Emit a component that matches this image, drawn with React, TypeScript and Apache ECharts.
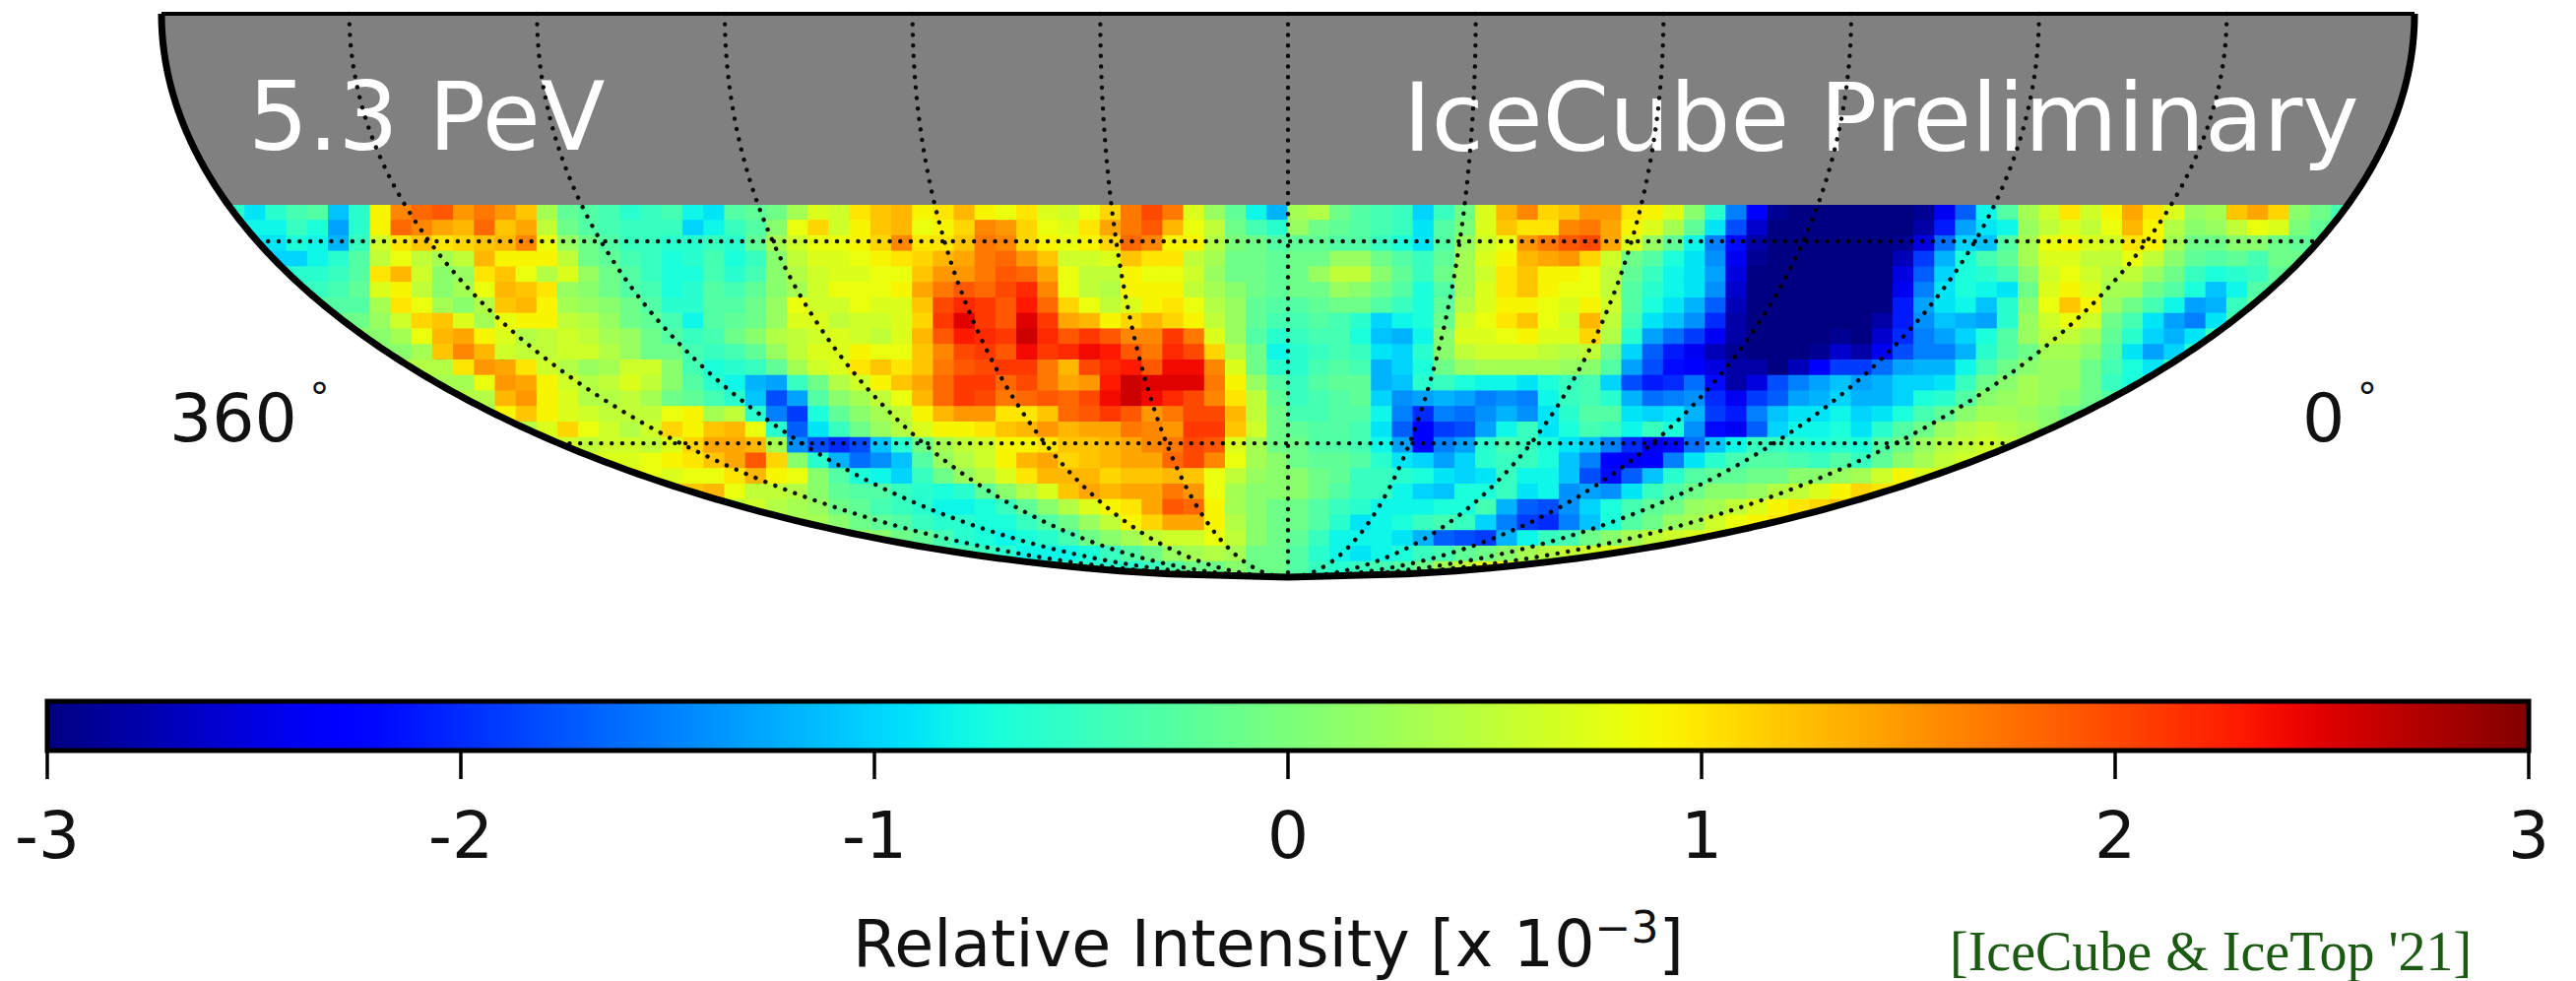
import React, { useEffect, useRef } from "react";
import * as echarts from "echarts";

// Sky map: rows run down from the exposure limit, columns run left to right
// in the projected plane. Values are relative intensity in tenths of 10^-3.
const columnCount = 108;
const rowCount = 24;
const exposureEdge = 0.339; // projected depth of the grey/map border
const rowStarts = [2,4,5,6,6,7,8,9,10,11,13,14,15,15,17,19,21,23,25,26,29,32,37,45];
const row00 = [-5,-6,-9,-6,-4,-3,-11,-6,9,16,18,19,15,17,15,12,3,-2,-3,-4,-6,-5,-4,-8,-9,
  -3,-2,-1,3,7,6,10,12,13,9,10,13,9,8,10,7,6,8,11,17,20,17,7,2,-2,-8,-12,
  3,4,-1,-3,-4,-5,-10,-5,-1,7,13,16,11,12,15,15,10,9,7,1,-6,-15,-23,-29,-30,-30,-30,
  -30,-30,-30,-29,-24,-17,-8,-3,3,6,10,6,9,14,10,7,2,3,12,14,11,1,-1,-4];
const row01 = [-8,-8,-5,-7,-13,-6,9,18,16,14,13,18,12,14,5,-1,-3,-4,-5,-5,-5,-10,-8,
  -5,-3,1,8,11,6,9,12,13,8,9,11,16,15,11,8,7,10,14,17,19,13,8,5,-1,-4,-6,
  2,-1,-2,-3,-4,-5,-9,-3,0,7,12,10,10,16,17,14,9,7,3,-2,-9,-18,-26,-30,-30,-30,-30,
  -30,-30,-30,-28,-21,-13,-9,-8,2,5,7,5,8,13,9,4,1,2,5,8,7,0,-2];
const row02 = [-9,-7,-8,-12,-5,6,10,12,10,11,12,13,16,8,2,-1,-3,-5,-5,-6,-6,-5,
  -6,-2,3,6,8,8,9,11,16,10,10,12,17,16,11,9,8,9,11,18,16,9,9,4,0,-1,-3,
  -2,-2,-3,-3,-5,-7,-9,-3,2,6,8,15,17,19,20,14,7,2,-2,-8,-15,-22,-28,-30,-30,-30,-30,
  -30,-30,-29,-25,-16,-10,-11,-3,3,8,9,7,6,10,9,3,-1,-1,1,1,-1,-2];
const row03 = [-10,-8,-6,-3,5,8,5,3,5,13,9,9,9,5,-1,-2,-4,-5,-7,-6,-4,
  -7,-5,1,5,7,7,8,9,10,11,13,14,17,18,15,12,6,6,7,12,10,10,5,3,-1,-1,-2,
  -1,-1,2,2,-1,-3,-5,-2,3,7,9,13,14,15,11,6,-1,-3,-7,-9,-14,-24,-29,-30,-30,-30,-30,
  -30,-30,-27,-19,-12,-7,-4,-2,3,7,7,5,5,8,5,1,-2,-3,-2,-4,-1,-1];
const row04 = [-6,-6,-5,-3,10,13,6,1,2,10,12,8,4,7,2,-1,-3,-5,-7,-7,-4,
  -6,-4,1,4,6,7,7,8,8,12,15,15,17,19,18,14,8,5,5,9,8,8,6,2,-1,-1,-2,
  -1,2,5,5,1,-2,-5,-1,3,6,10,12,9,9,8,5,-2,-5,-8,-9,-13,-25,-30,-30,-30,-30,-30,
  -30,-30,-25,-17,-10,-7,-6,-4,1,6,8,6,4,5,2,-1,-5,-7,-6,-5,-2];
const row05 = [-5,-4,-2,7,9,5,1,3,8,13,12,10,2,1,-1,-3,-4,-7,-6,-3,
  -4,-2,1,3,6,8,8,8,9,14,17,19,18,20,22,16,8,5,4,9,9,9,5,3,1,-1,-2,
  -1,-1,2,1,-1,-3,-7,-3,3,7,10,12,9,8,8,5,-3,-6,-8,-9,-14,-26,-30,-30,-30,-30,-30,
  -30,-30,-24,-15,-9,-7,-8,-9,-1,7,9,7,3,3,-1,-3,-7,-11,-8,-3];
const row06 = [-3,-3,3,10,8,3,1,4,12,13,9,3,2,1,-1,-3,-6,-6,-3,
  -3,-1,2,8,6,6,8,7,7,12,20,22,21,19,23,18,11,8,5,7,9,10,8,4,2,-2,-3,
  -3,-2,-1,-1,-3,-5,-7,-2,4,7,9,9,8,7,9,6,-3,-7,-9,-12,-17,-27,-30,-30,-30,-30,-30,
  -30,-30,-21,-13,-9,-8,-11,-6,1,8,12,9,2,-1,-4,-8,-13,-12,-5,-2];
const row07 = [-1,2,6,11,12,7,3,8,9,9,5,4,2,-1,-2,-4,-8,-3,
  -2,-1,2,7,7,5,6,6,7,11,21,25,21,19,25,21,14,13,9,11,13,11,9,5,2,-2,-4,
  -4,-3,-4,-6,-10,-8,-7,-1,6,8,10,12,8,6,13,5,-4,-9,-11,-14,-20,-28,-30,-30,-30,-30,-30,
  -30,-28,-21,-14,-11,-12,-13,-6,2,6,8,6,-1,-4,-9,-13,-15,-9,-4];
const row08 = [1,3,8,13,14,9,7,4,5,6,5,3,2,-1,-3,-5,-4,
  -1,1,4,5,6,7,6,5,7,13,19,23,22,21,26,22,19,21,19,16,16,21,17,7,2,-3,-6,
  -5,-4,-4,-7,-11,-12,-8,1,7,7,8,9,7,7,11,4,-6,-13,-16,-19,-24,-28,-30,-30,-30,-30,-29,
  -30,-26,-20,-15,-13,-10,-7,-3,2,5,5,3,-2,-6,-10,-12,-9,-5,-1];
const row09 = [1,3,12,16,13,6,5,5,6,6,4,2,-1,-1,-4,-5,
  -4,-2,2,5,7,7,9,8,8,12,16,20,21,19,24,21,22,24,23,19,17,22,20,11,4,-1,-8,
  -6,-5,-4,-5,-9,-10,-6,1,5,6,6,6,5,4,5,-1,-10,-17,-21,-24,-27,-29,-30,-30,-30,-29,-26,
  -28,-24,-18,-15,-15,-12,-6,-3,-1,3,3,1,-3,-9,-13,-10,-6,-3];
const row10 = [4,10,15,14,10,6,4,2,3,6,6,1,-4,-7,
  -6,-5,-2,3,6,7,10,12,10,12,17,19,20,21,21,17,13,20,22,23,19,24,24,16,7,-1,-6,
  -6,-4,-3,-4,-12,-10,-7,-1,2,3,3,3,3,2,1,-3,-13,-18,-22,-23,-25,-28,-28,-30,-27,-23,-19,
  -19,-16,-13,-12,-12,-8,-4,-1,1,2,2,-1,-4,-7,-9,-5,-2];
const row11 = [3,8,15,14,9,6,4,5,7,5,1,-3,-6,
  -8,-12,-13,-5,-1,4,6,9,12,14,18,21,21,18,20,17,14,15,23,26,25,25,25,17,9,2,-3,
  -5,-3,-2,-2,-12,-11,-6,-5,-7,-8,-8,-9,-7,-5,-4,-10,-18,-21,-20,-16,-22,-28,-25,-18,-15,-13,-11,
  -13,-12,-10,-10,-9,-5,-1,1,3,2,2,-1,-5,-7,-5,-3,-1];
const row12 = [4,13,15,9,7,4,4,5,3,-1,-2,-4,
  -6,-11,-18,-13,-3,1,3,5,8,13,18,21,20,17,18,19,18,20,24,26,24,22,20,16,10,5,-2,
  -5,-4,-3,-2,-10,-14,-13,-12,-13,-15,-14,-15,-8,-5,-4,-6,-12,-16,-15,-14,-20,-24,-19,-17,-13,-12,-10,
  -12,-12,-10,-7,-6,-3,1,2,3,2,1,-1,-3,-5,-4,-2,-1];
const row13 = [3,9,12,9,7,6,5,5,5,8,9,3,
  5,-6,-15,-19,-7,-2,1,3,5,9,13,15,15,10,10,12,18,19,21,19,15,17,20,20,13,5,-1,
  -4,-4,-3,-3,-8,-15,-20,-15,-16,-14,-12,-14,-9,-6,-3,-3,-9,-10,-9,-12,-19,-21,-15,-11,-9,-9,-8,
  -10,-9,-7,-4,-2,1,3,3,2,1,-1,-2,-3,-3,-2,-1];
const row14 = [4,7,11,8,6,4,6,11,9,12,
  13,8,-6,-17,-9,-5,-1,2,4,7,9,9,10,12,13,15,13,14,14,17,16,15,21,21,12,6,-1,
  -2,-3,-3,-4,-9,-17,-23,-19,-18,-13,-8,-5,-9,-7,-4,-5,-8,-5,-7,-14,-22,-24,-17,-10,-8,-8,-7,
  -9,-6,-3,-1,2,4,5,4,3,1];
const row15 = [6,5,6,6,5,7,11,14,
  14,13,3,-14,-18,-20,-18,-11,-6,-1,3,5,6,9,9,10,12,12,13,14,16,17,20,19,7,3,-1,
  -1,-3,-3,-4,-8,-13,-23,-15,-13,-6,-4,-5,-7,-9,-11,-15,-20,-24,-22,-16,-11,-8,-5,-5,-6,-7,-6,
  -7,-3,-1,2,4,5,6,5,3];
const row16 = [7,7,8,9,10,12,
  14,19,11,1,-6,-12,-16,-14,-11,-3,2,4,6,9,13,14,11,12,13,14,14,18,20,16,8,3,1,
  -1,-2,-2,-3,-6,-9,-10,-13,-10,-6,-5,-5,-7,-11,-15,-23,-24,-23,-15,-9,-6,-4,-3,-3,-4,-5,-3,
  -5,-2,1,3,5,6];
const row17 = [8,7,8,8,
  10,13,9,8,1,-3,-7,-8,-10,-5,-1,2,4,7,10,13,13,13,11,12,12,13,12,8,5,2,1,
  1,-1,-2,-5,-5,-6,-7,-9,-10,-9,-5,-8,-8,-11,-18,-22,-17,-11,-6,-3,-2,-2,-1,-1,1,1,2,
  3,6,9,7];
const row18 = [12,13,
  8,5,5,4,1,-2,-3,-3,-5,-6,-7,-6,-2,1,4,7,12,14,13,14,14,17,15,8,3,1,1,
  1,-1,-3,-5,-5,-8,-10,-11,-7,-7,-5,-9,-8,-14,-13,-14,-9,-5,-3,-1,1,1,2,4,5,7,9,
  11,10,9];
const row19 = [7,
  5,6,4,3,2,-1,-2,-4,-5,-6,-8,-8,-7,-5,-2,1,4,7,9,10,14,19,18,9,3,1,-1,
  -1,-3,-5,-6,-8,-8,-8,-7,-7,-4,-12,-17,-18,-14,-10,-7,-4,-2,-1,2,3,5,7,9,10,11,12,
  12];
const row20 = [3,3,3,1,-1,-2,-3,-5,-6,-6,-7,-7,-5,-3,-1,2,5,9,11,14,14,9,4,1,-1,
  -1,-3,-6,-9,-8,-7,-5,-4,-5,-10,-15,-19,-20,-15,-11,-7,-3,-1,2,3,6,8,9,10,11];
const row21 = [2,2,1,-1,-2,-4,-6,-7,-8,-7,-6,-4,-1,1,3,5,6,6,8,5,1,-1,
  -2,-5,-8,-8,-8,-9,-12,-17,-18,-19,-12,-8,-5,-4,-1,1,3,5,6,7,8,9,9];
const row22 = [-4,-4,-5,-6,-8,-8,-8,-7,-5,-3,-1,2,3,4,3,-1,-1,
  -3,-6,-8,-9,-8,-7,-5,-4,-2,-1,1,3,4,5,6,7,8,8];
const row23 = [-6,-6,-5,-3,-1,-1,1,-1,-1,
  -3,-5,-6,-5,-4,-3,-1,3,5,7,8,8];
const skyRows = [row00,row01,row02,row03,row04,row05,row06,row07,row08,row09,row10,row11,row12,row13,row14,row15,row16,row17,row18,row19,row20,row21,row22,row23];

const meridians = [30, 60, 90, 120, 150, 180, 210, 240, 270, 300, 330];
const parallels = [-30, -60];
const colorbarRange = [-3, 3];

function jet(t: number) {
  const ramp = (pts: number[][]) => {
    for (let i = 1; i < pts.length; i++) {
      if (t <= pts[i][0]) {
        const f = (t - pts[i - 1][0]) / (pts[i][0] - pts[i - 1][0] || 1);
        return pts[i - 1][1] + f * (pts[i][1] - pts[i - 1][1]);
      }
    }
    return pts[pts.length - 1][1];
  };
  const r = ramp([[0, 0], [0.35, 0], [0.66, 1], [0.89, 1], [1, 0.5]]);
  const g = ramp([[0, 0], [0.125, 0], [0.375, 1], [0.64, 1], [0.91, 0], [1, 0]]);
  const b = ramp([[0, 0.5], [0.11, 1], [0.34, 1], [0.65, 0], [1, 0]]);
  return `rgb(${Math.round(r * 255)},${Math.round(g * 255)},${Math.round(b * 255)})`;
}
const colorOf = (v: number) => jet(Math.max(0, Math.min(1, (v + 3) / 6)));

// Mollweide projection of the southern sky; x runs from -1 (360 deg) to 1 (0 deg), y from 0 (equator) to 1 (pole).
function project(lon: number, lat: number): number[] {
  const phi = (lat * Math.PI) / 180;
  let th = phi;
  for (let i = 0; i < 60; i++) {
    const d = 2 * th + Math.sin(2 * th) - Math.PI * Math.sin(phi);
    const dd = 2 + 2 * Math.cos(2 * th);
    if (dd < 1e-6) break;
    th -= d / dd;
  }
  return [((180 - lon) / 180) * Math.cos(th), -Math.sin(th)];
}
const latSteps = Array.from({ length: 91 }, (_, i) => -i);

const cellData: number[][] = [];
const pushCell = (c: number, r: number, v: number) => {
  if (c < 0 || c >= columnCount) return;
  const x = -1 + ((c + 0.5) * 2) / columnCount;
  const y = exposureEdge + ((r + 0.5) * (1 - exposureEdge)) / rowCount;
  cellData.push([x, y, v / 10]);
};
const edgePad = 4; // cells past the rim, hidden by the mask, so the rim has no gaps
skyRows.forEach((row, r) => {
  const start = rowStarts[r];
  row.forEach((v, k) => pushCell(start + k, r, v));
  for (let p = 1; p <= edgePad; p++) {
    pushCell(start - p, r, row[0]);
    pushCell(start + row.length - 1 + p, r, row[row.length - 1]);
  }
});

const ellipseX = (y: number) => Math.sqrt(Math.max(0, 1 - y * y));
const arcSteps = Array.from({ length: 181 }, (_, i) => i / 180);
const maskPoints: number[][] = [
  [-1.03, 0], [-1, 0],
  ...arcSteps.map((s) => [-ellipseX(s), s]),
  ...arcSteps.slice().reverse().map((s) => [ellipseX(s), s]),
  [1.03, 0], [1.03, 1.03], [-1.03, 1.03],
];
const greySteps = arcSteps.map((s) => s * exposureEdge);
const greyPoints: number[][] = [
  ...greySteps.map((s) => [-ellipseX(s), s]),
  ...greySteps.slice().reverse().map((s) => [ellipseX(s), s]),
];
const rimPoints: number[][] = [
  ...arcSteps.map((s) => [-ellipseX(s), s]),
  ...arcSteps.slice().reverse().map((s) => [ellipseX(s), s]),
];
const topPoints: number[][] = [[-1, 0], [1, 0]];

const polygonSeries = (points: number[][], fill: string, z: number) => ({
  type: "custom",
  xAxisIndex: 0,
  yAxisIndex: 0,
  z,
  silent: true,
  clip: false,
  data: [[0, 0]],
  renderItem: (_p: any, api: any) => ({
    type: "polygon",
    shape: { points: points.map((q) => api.coord(q)) },
    style: { fill },
  }),
});

const dottedLine = (data: number[][]) => ({
  type: "line",
  xAxisIndex: 0,
  yAxisIndex: 0,
  z: 6,
  silent: true,
  clip: false,
  showSymbol: false,
  symbol: "none",
  data,
  lineStyle: { color: "#000", width: 4.4, type: [0.1, 10.6], cap: "round", opacity: 0.92 },
});

const solidLine = (data: number[][], width: number) => ({
  type: "line",
  xAxisIndex: 0,
  yAxisIndex: 0,
  z: 7,
  silent: true,
  clip: false,
  symbol: "none",
  showSymbol: false,
  data,
  lineStyle: { color: "#000", width, join: "round" },
});

const dejavu = "DejaVu Sans";
const degreeRich = {
  a: { fontFamily: dejavu, fontSize: 68, fill: "#111", lineHeight: 80 },
  b: { fontFamily: dejavu, fontSize: 40, fill: "#111", verticalAlign: "top", lineHeight: 80 },
};

const option: any = {
  animation: false,
  backgroundColor: "#fff",
  grid: [
    { left: 164, top: 14, width: 2288, height: 572 },
    { left: 48, top: 712, width: 2520, height: 50 },
  ],
  xAxis: [
    { type: "value", gridIndex: 0, min: -1, max: 1, show: false },
    {
      type: "value",
      gridIndex: 1,
      min: colorbarRange[0],
      max: colorbarRange[1],
      interval: 1,
      splitLine: { show: false },
      axisLine: { show: false },
      axisTick: { show: true, length: 29, lineStyle: { color: "#000", width: 3.5 } },
      axisLabel: { fontFamily: dejavu, fontSize: 66, color: "#111", margin: 53, showMinLabel: true, showMaxLabel: true },
    },
  ],
  yAxis: [
    { type: "value", gridIndex: 0, min: 0, max: 1, inverse: true, show: false },
    { type: "value", gridIndex: 1, min: 0, max: 1, show: false },
  ],
  series: [
    {
      type: "custom",
      xAxisIndex: 0,
      yAxisIndex: 0,
      z: 1,
      silent: true,
      clip: false,
      data: cellData,
      encode: { x: 0, y: 1 },
      renderItem: (_p: any, api: any) => {
        const x = api.value(0);
        const y = api.value(1);
        const dx = 1 / columnCount;
        const dy = (1 - exposureEdge) / rowCount / 2;
        const a = api.coord([x - dx, y - dy]);
        const b = api.coord([x + dx, y + dy]);
        return {
          type: "rect",
          shape: { x: a[0] - 0.5, y: a[1] - 0.5, width: b[0] - a[0] + 1, height: b[1] - a[1] + 1 },
          style: { fill: colorOf(api.value(2)) },
        };
      },
    },
    polygonSeries(maskPoints, "#fff", 2),
    polygonSeries(greyPoints, "#808080", 2),
    ...meridians.map((lon) => dottedLine(latSteps.map((lat) => project(lon, lat)))),
    ...parallels.map((lat) => dottedLine([project(360, lat), project(0, lat)])),
    solidLine(rimPoints, 7),
    solidLine(topPoints, 4),
    {
      type: "custom",
      xAxisIndex: 1,
      yAxisIndex: 1,
      z: 3,
      silent: true,
      clip: false,
      data: [[colorbarRange[0], colorbarRange[1]]],
      renderItem: (_p: any, api: any) => {
        const a = api.coord([api.value(0), 1]);
        const b = api.coord([api.value(1), 0]);
        const stops = Array.from({ length: 61 }, (_, i) => ({ offset: i / 60, color: jet(i / 60) }));
        return {
          type: "rect",
          shape: { x: a[0], y: a[1], width: b[0] - a[0], height: b[1] - a[1] },
          style: { fill: new echarts.graphic.LinearGradient(0, 0, 1, 0, stops), stroke: "#000", lineWidth: 5 },
        };
      },
    },
  ],
  graphic: {
    elements: [
      { type: "text", z: 4, x: 252, y: 71, style: { text: "5.3 PeV", fill: "#fff", fontFamily: dejavu, fontSize: 96 } },
      { type: "text", z: 4, x: 1425, y: 71, style: { text: "IceCube Preliminary", fill: "#fff", fontFamily: dejavu, fontSize: 97 } },
      { type: "text", z: 4, x: 172, y: 384, style: { text: "{a|360}{b| °}", fontFamily: dejavu, rich: degreeRich } },
      { type: "text", z: 4, x: 2338, y: 384, style: { text: "{a|0}{b| °}", fontFamily: dejavu, rich: degreeRich } },
      {
        type: "text", z: 4, x: 866, y: 919,
        style: {
          text: "{a|Relative Intensity [x 10}{b|−3}{a|]}",
          fontFamily: dejavu,
          rich: {
            a: { fontFamily: dejavu, fontSize: 65, fill: "#111", lineHeight: 72, verticalAlign: "bottom" },
            b: { fontFamily: dejavu, fontSize: 44, fill: "#111", lineHeight: 44, verticalAlign: "top" },
          },
        },
      },
      { type: "text", z: 4, x: 1980, y: 938, style: { text: "[IceCube & IceTop '21]", fill: "#1c5a14", fontFamily: "Liberation Serif", fontSize: 56 } },
    ],
  },
};

export default function App() {
  const ref = useRef<HTMLDivElement>(null);
  useEffect(() => {
    const chart = echarts.init(ref.current!, undefined, { renderer: "svg" });
    chart.setOption(option);
    return () => chart.dispose();
  }, []);
  return <div ref={ref} style={{ position: "fixed", left: 0, top: 0, width: 2616, height: 996 }} />;
}
